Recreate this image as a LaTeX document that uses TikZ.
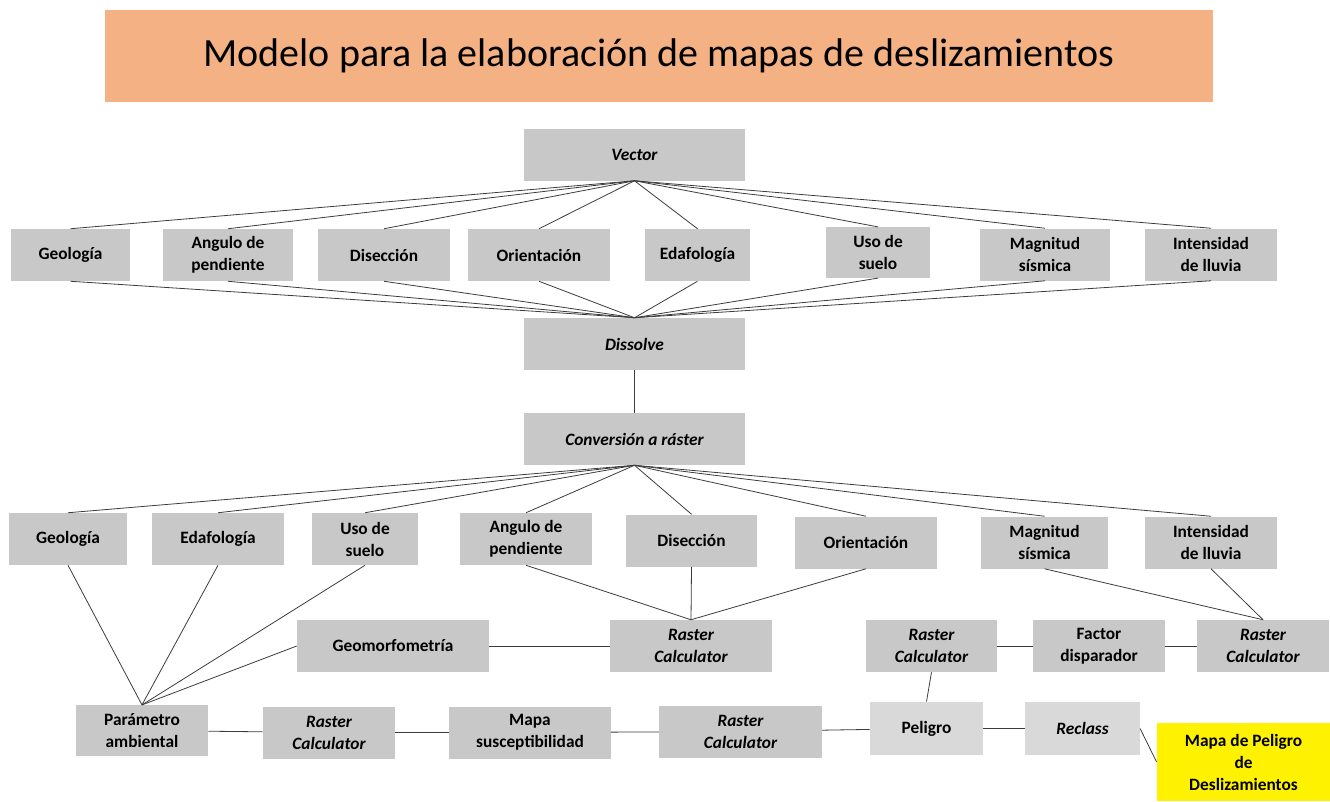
\documentclass[tikz,border=0pt]{standalone}
\usepackage{fontspec}
\setmainfont{Carlito}
\usepackage{tikz}

\definecolor{boxgray}{RGB}{200,200,200}
\definecolor{lightgray}{RGB}{217,217,217}
\definecolor{titleorange}{RGB}{244,177,131}
\definecolor{linegray}{RGB}{60,60,60}

\begin{document}
\begin{tikzpicture}[
  x=0.75pt, y=-0.75pt,
  box/.style={fill=boxgray, inner sep=1pt, align=center, minimum height=39pt,
    font=\fontsize{13}{16.5}\selectfont\bfseries},
  tool/.style={box, font=\fontsize{13}{16.5}\selectfont\bfseries\itshape},
  light/.style={fill=lightgray},
  link/.style={draw=linegray, line width=0.6pt}
]
\useasboundingbox (0,0) rectangle (1330,801);

% title
\node[fill=titleorange, minimum width=831pt, minimum height=69pt,
  font=\fontsize{30}{33}\selectfont] (title) at (659,56) {Modelo para la elaboración de mapas de deslizamientos};

% vector layers
\node[tool, minimum width=166pt] (vec) at (634.5,154.5) {Vector};
\node[box, minimum width=89pt] (geo1) at (70.5,255) {Geología};
\node[box, minimum width=97pt] (ang1) at (228,255) {Angulo de\\pendiente};
\node[box, minimum width=99pt] (dis1) at (384,255) {Disección};
\node[box, minimum width=106pt] (ori1) at (539,255) {Orientación};
\node[box, minimum width=79pt] (eda1) at (697.5,255) {Edafología};
\node[box, minimum width=78pt, minimum height=38pt] (uso1) at (878,252.5) {Uso de\\suelo};
\node[box, minimum width=97pt] (mag1) at (1045,254.5) {Magnitud\\sísmica};
\node[box, minimum width=99pt] (int1) at (1211,254.5) {Intensidad\\de lluvia};
\node[tool, minimum width=166pt] (dslv) at (634.5,344) {Dissolve};
\node[tool, minimum width=166pt] (conv) at (634.5,439) {Conversión a ráster};

\foreach \n in {geo1,ang1,dis1,ori1,eda1,uso1,mag1,int1} {
  \draw[link] (vec.south) -- (\n.north);
  \draw[link] (\n.south) -- (dslv.north);
}
\draw[link] (dslv) -- (conv);

% raster layers
\node[box, minimum width=88pt] (geo2) at (68,539) {Geología};
\node[box, minimum width=99pt] (eda2) at (218,539) {Edafología};
\node[box, minimum width=79pt] (uso2) at (365,539) {Uso de\\suelo};
\node[box, minimum width=99pt] (ang2) at (526,539) {Angulo de\\pendiente};
\node[box, minimum width=98pt] (dis2) at (691.5,540.5) {Disección};
\node[box, minimum width=106pt] (ori2) at (866,542.5) {Orientación};
\node[box, minimum width=95pt] (mag2) at (1044.5,542.5) {Magnitud\\sísmica};
\node[box, minimum width=99pt] (int2) at (1211,542.5) {Intensidad\\de lluvia};

\foreach \n in {geo2,eda2,uso2,ang2,dis2,ori2,mag2,int2}
  \draw[link] (conv.south) -- (\n.north);

% processing
\node[box, minimum width=144pt] (geom) at (393,646) {Geomorfometría};
\node[tool, minimum width=121pt] (rc1) at (691,646) {Raster\\Calculator};
\node[tool, minimum width=98pt] (rc3) at (931.5,646) {Raster\\Calculator};
\node[box, minimum width=99pt] (fac) at (1099,646) {Factor\\disparador};
\node[tool, minimum width=99pt] (rc4) at (1263,646) {Raster\\Calculator};

\node[box, minimum width=99pt, minimum height=38pt] (par) at (142,730.5) {Parámetro\\ambiental};
\node[tool, minimum width=99pt] (rc2a) at (329,732.5) {Raster\\Calculator};
\node[box, minimum width=121pt] (sus) at (530,732.5) {Mapa\\susceptibilidad};
\node[tool, minimum width=122pt] (rc2b) at (740.5,731.5) {Raster\\Calculator};
\node[box, light, minimum width=85pt, minimum height=40pt] (pel) at (926.5,728.5) {Peligro};
\node[tool, light, minimum width=86pt, minimum height=40pt] (rcl) at (1082.5,728.5) {Reclass};
\node[box, fill=yellow, minimum width=130pt, minimum height=58pt] (map) at (1243.5,762) {Mapa de Peligro\\de\\Deslizamientos};

\foreach \n in {geo2,eda2,uso2}
  \draw[link] (\n.south) -- (par.north);
\draw[link] (geom.west) -- (par.north);
\draw[link] (geom) -- (rc1);
\foreach \n in {ang2,dis2,ori2}
  \draw[link] (\n.south) -- (rc1.north);
\foreach \n in {mag2,int2}
  \draw[link] (\n.south) -- (rc4.north);
\draw[link] (rc3) -- (fac);
\draw[link] (fac) -- (rc4);
\draw[link] (rc3.south) -- (pel.north);
\draw[link] (par) -- (rc2a);
\draw[link] (rc2a) -- (sus);
\draw[link] (sus) -- (rc2b);
\draw[link] (rc2b) -- (pel);
\draw[link] (pel) -- (rcl);
\draw[link] (rcl.east) -- (map.west);
\end{tikzpicture}
\end{document}
